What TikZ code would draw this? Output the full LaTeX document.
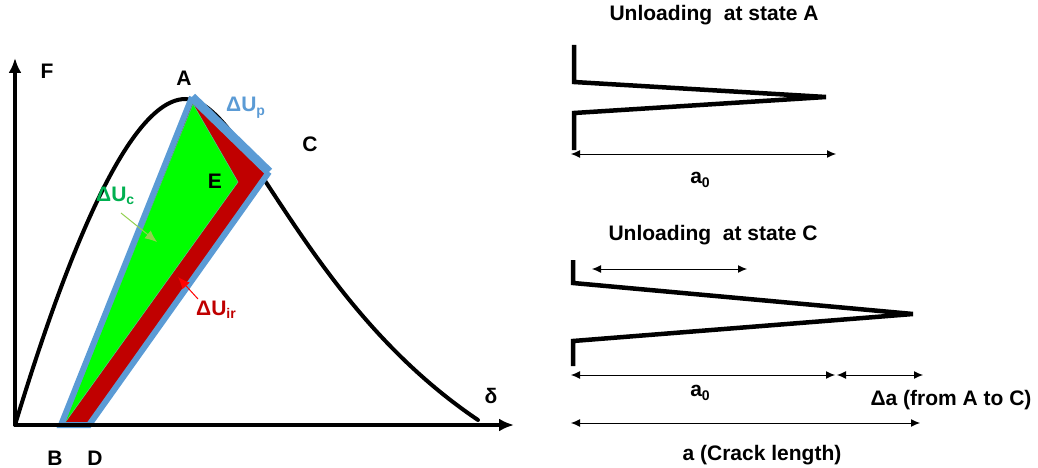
\documentclass[tikz,border=0pt]{standalone}
\usepackage{fontspec}
\setmainfont{Liberation Sans}
\usetikzlibrary{arrows.meta}
\definecolor{bluep}{HTML}{5B9BD5}
\definecolor{greenc}{HTML}{00B050}
\definecolor{redir}{HTML}{C00000}
\definecolor{fillg}{HTML}{00FF00}
\definecolor{arrg}{HTML}{92D050}
\definecolor{arrr}{HTML}{FF0000}
\newcommand\lsub[1]{\raisebox{-0.35ex}{\fontsize{14}{14}\selectfont #1}}
\begin{document}
\begin{tikzpicture}[x=1pt,y=-1pt,
  lbl/.style={font=\fontsize{21}{24}\selectfont\bfseries, inner sep=0pt},
  axis/.style={line width=4pt,-{Latex[length=15pt,width=13pt]}},
  dim/.style={line width=1pt,{Latex[length=9pt,width=8pt]}-{Latex[length=9pt,width=8pt]}},
  crack/.style={line width=4.5pt,line join=miter},
  curve/.style={line width=4pt,line cap=round},
  hint/.style={line width=1pt,-{Latex[length=12pt,width=10pt]}}]
\useasboundingbox (0,0) rectangle (1038,468);
% ---------- left diagram ----------
\coordinate (O) at (15,425);
\coordinate (ytip) at (15,58);
\coordinate (xtip) at (514,425);
\coordinate (A) at (192,97);
\coordinate (Cc) at (269,172);
\coordinate (D) at (89,425);
\coordinate (B) at (61,425);
\coordinate (E) at (238,182);
\coordinate (Ag) at (193,104);
\coordinate (Bg) at (64,424);
\coordinate (peak) at (185,99);
\coordinate (cend) at (478,420);
% load curve
\draw[curve] (O) .. controls (50,310) and (120,100) .. (peak)
  .. controls (245,99) and (300,300) .. (cend);
% regions
\fill[redir] (A) -- (Cc) -- (D) -- (B) -- cycle;
\filldraw[fill=fillg,draw=greenc!70!white,line width=0.6pt] (Ag) -- (E) -- (Bg) -- cycle;
\draw[bluep,line width=6pt,line join=miter] (A) -- (B) -- (D) -- (Cc);
\draw[bluep,line width=9pt] (A) -- (Cc);
% axes
\draw[axis] (O) -- (ytip);
\draw[axis] (O) -- (xtip);
% labels
\node[lbl] (lF) at (47,71) {F};
\node[lbl] (lA) at (184,78) {A};
\node[lbl] (lC) at (310,144) {C};
\node[lbl] (lE) at (215,181) {E};
\node[lbl] (lB) at (55,458) {B};
\node[lbl] (lD) at (95,458) {D};
\node[lbl] (ld) at (491,396) {δ};
\node[lbl,text=bluep,anchor=base west] (lUp) at (226,112) {ΔU\lsub{p}};
\node[lbl,text=greenc,anchor=base west] (lUc) at (96,201) {ΔU\lsub{c}};
\node[lbl,text=redir,anchor=base west] (lUir) at (196,315) {ΔU\lsub{ir}};
\coordinate (gS) at (121,213);
\coordinate (gT) at (157,242);
\coordinate (rS) at (198,299);
\coordinate (rT) at (178,277);
\draw[hint,arrg] (gS) -- (gT);
\draw[hint,arrr] (rS) -- (rT);
% ---------- right diagram : state A ----------
\node[lbl] (tA) at (714,15) {Unloading\ \ at state A};
\coordinate (a1) at (574,45);
\coordinate (a2) at (574,82);
\coordinate (a3) at (826,97);
\coordinate (a4) at (574,113);
\coordinate (a5) at (574,150);
\draw[crack] (a1) -- (a2) -- (a3) -- (a4) -- (a5);
\coordinate (dA1) at (571,154);
\coordinate (dA2) at (836,154);
\draw[dim] (dA1) -- (dA2);
\node[lbl] (a0A) at (700,180) {a\lsub{0}};
% ---------- right diagram : state C ----------
\node[lbl] (tC) at (713,235) {Unloading\ \ at state C};
\coordinate (s1) at (592,269);
\coordinate (s2) at (747,269);
\draw[dim] (s1) -- (s2);
\coordinate (c1) at (573,260);
\coordinate (c2) at (573,283);
\coordinate (c3) at (913,314);
\coordinate (c4) at (573,341);
\coordinate (c5) at (573,366);
\draw[crack] (c1) -- (c2) -- (c3) -- (c4) -- (c5);
\coordinate (d1) at (571,375);
\coordinate (d2) at (835,375);
\coordinate (d3) at (837,375);
\coordinate (d4) at (923,375);
\draw[dim] (d1) -- (d2);
\draw[dim] (d3) -- (d4);
\node[lbl] (a0C) at (700,393) {a\lsub{0}};
\node[lbl] (da) at (951,400) {Δa (from A to C)};
\coordinate (e1) at (571,423);
\coordinate (e2) at (920,423);
\draw[dim] (e1) -- (e2);
\node[lbl] (acl) at (762,455) {a (Crack length)};
\end{tikzpicture}
\end{document}
